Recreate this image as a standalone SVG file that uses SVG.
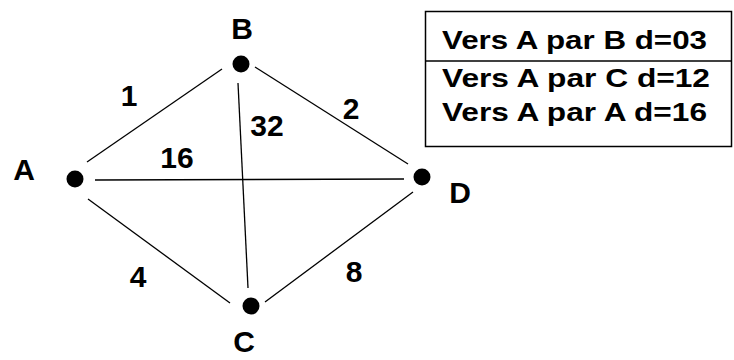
<svg xmlns="http://www.w3.org/2000/svg" width="734" height="360" viewBox="0 0 734 360">
<style>
.lbl{font-family:"Liberation Sans",Arial,sans-serif;font-size:30px;font-weight:bold;fill:#000;text-anchor:middle}
.tbl{font-family:"Liberation Sans",Arial,sans-serif;font-size:25px;font-weight:bold;fill:#000}
.edge{stroke:#000;stroke-width:1.3;fill:none}
.dot{fill:#000}
</style>
<rect width="734" height="360" fill="#fff"/>
<g id="connectors">
<line class="edge" x1="87" y1="162" x2="222" y2="69"/>
<line class="edge" x1="255" y1="67" x2="408" y2="164"/>
<line class="edge" x1="238" y1="83" x2="248" y2="288"/>
<line class="edge" x1="95" y1="180" x2="404" y2="179"/>
<line class="edge" x1="88" y1="199" x2="230" y2="303"/>
<line class="edge" x1="265" y1="302" x2="413" y2="192"/>
<text class="lbl" x="129" y="106">1</text>
<text class="lbl" x="267" y="136">32</text>
<text class="lbl" x="351" y="119">2</text>
<text class="lbl" x="177" y="168">16</text>
<text class="lbl" x="138" y="287">4</text>
<text class="lbl" x="354" y="282">8</text>
</g>
<g id="node-A">
<circle class="dot" cx="75" cy="179" r="8.5"/>
<text class="lbl" x="24" y="180">A</text>
</g>
<g id="node-B">
<circle class="dot" cx="241" cy="64" r="8.5"/>
<text class="lbl" x="242" y="39">B</text>
</g>
<g id="node-C">
<circle class="dot" cx="251" cy="306" r="8.5"/>
<text class="lbl" x="244" y="352">C</text>
</g>
<g id="node-D">
<circle class="dot" cx="422" cy="177" r="8.5"/>
<text class="lbl" x="460" y="203">D</text>
</g>
<g id="table">
<rect x="425.5" y="11.5" width="306" height="135" fill="none" stroke="#000" stroke-width="1.5"/>
<line x1="425" y1="61" x2="732" y2="61" stroke="#000" stroke-width="1.5"/>
<text class="tbl" x="442" y="49" textLength="265" lengthAdjust="spacingAndGlyphs">Vers A par B d=03</text>
<text class="tbl" x="442" y="87" textLength="268" lengthAdjust="spacingAndGlyphs">Vers A par C d=12</text>
<text class="tbl" x="442" y="121" textLength="265" lengthAdjust="spacingAndGlyphs">Vers A par A d=16</text>
</g>
</svg>
